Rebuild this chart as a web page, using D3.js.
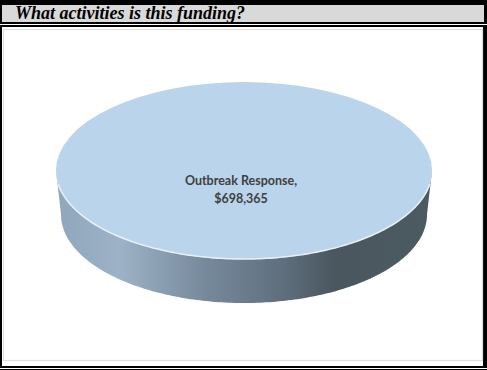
<!DOCTYPE html>
<html>
<head>
<meta charset="utf-8">
<script src="https://cdn.jsdelivr.net/npm/d3@7"></script>
<style>
  html, body { margin: 0; padding: 0; background: #fff; }
  svg { display: block; }
</style>
</head>
<body>
<svg width="487" height="370"></svg>
<script>
const width = 487;
const height = 370;

const categories = ["Outbreak Response"];
const values = [698365];
const title = "What activities is this funding?";

const svg = d3.select("svg");

// frame around the whole thing
svg.append("rect").attr("width", width).attr("height", height).attr("fill", "#000");
svg.append("rect").attr("x", 2).attr("y", 5).attr("width", 482).attr("height", 17).attr("fill", "#d9d9d9");
svg.append("rect").attr("x", 0).attr("y", 24).attr("width", width).attr("height", 1).attr("fill", "#fff");
svg.append("rect").attr("x", 2).attr("y", 27).attr("width", 481).attr("height", 339).attr("fill", "#fff");
svg.append("rect").attr("x", 0).attr("y", 368).attr("width", width).attr("height", 1).attr("fill", "#fff");

svg.append("text")
  .attr("x", 15)
  .attr("y", 19)
  .attr("font-family", "Liberation Serif")
  .attr("font-size", 18)
  .attr("font-weight", "bold")
  .attr("font-style", "italic")
  .attr("fill", "#000")
  .text(title);

// chart area border
svg.append("rect")
  .attr("x", 3.5).attr("y", 29.5)
  .attr("width", 479).attr("height", 331)
  .attr("fill", "#fff")
  .attr("stroke", "#dedede")
  .attr("stroke-width", 1.2);

// pie geometry, the bottom ellipse is a bit narrower than the top
const cx = 244, cy = 170.5, rx = 188, ry = 88.5, depth = 44, rxBottom = 183;

const defs = svg.append("defs");
const grad = defs.append("linearGradient")
  .attr("id", "side")
  .attr("gradientUnits", "userSpaceOnUse")
  .attr("x1", cx - rx).attr("x2", cx + rx).attr("y1", 0).attr("y2", 0);
grad.append("stop").attr("offset", "0%").attr("stop-color", "#8fa6bc");
grad.append("stop").attr("offset", "17%").attr("stop-color", "#9db2c6");
grad.append("stop").attr("offset", "40%").attr("stop-color", "#76899b");
grad.append("stop").attr("offset", "60%").attr("stop-color", "#5f6f7e");
grad.append("stop").attr("offset", "74%").attr("stop-color", "#4a575f");
grad.append("stop").attr("offset", "100%").attr("stop-color", "#4c5a62");

const pie = d3.pie().sort(null);
const slices = pie(values);

// side wall: front half of the top ellipse, back along the bottom ellipse
const angles = d3.range(0, 181).map(d => d * Math.PI / 180);
const wallPoints = angles
  .map(a => [cx + rx * Math.cos(a), cy + ry * Math.sin(a)])
  .concat(angles.slice().reverse().map(a => [cx + rxBottom * Math.cos(a), cy + ry * Math.sin(a) + depth]));
svg.append("path")
  .attr("d", d3.line()(wallPoints) + "Z")
  .attr("fill", "url(#side)");

// top face
const arc = d3.arc().innerRadius(0).outerRadius(rx);
svg.append("g")
  .attr("transform", `translate(${cx},${cy}) scale(1,${ry / rx})`)
  .selectAll("path")
  .data(slices)
  .enter().append("path")
  .attr("d", arc)
  .attr("fill", "#bad4eb");

// thin highlight on the front edge of the top
const rim = d3.line()
  .x(a => cx + rx * Math.cos(a))
  .y(a => cy + ry * Math.sin(a));
svg.append("path")
  .datum(angles.filter(a => a > 0.15 && a < Math.PI - 0.15))
  .attr("d", rim)
  .attr("fill", "none")
  .attr("stroke", "#e9f1f8")
  .attr("stroke-width", 1.5);

// label
const label = svg.append("text")
  .attr("text-anchor", "middle")
  .attr("font-family", "Lato")
  .attr("font-size", 12.5)
  .attr("font-weight", "bold")
  .attr("fill", "#404040");
label.append("tspan").attr("x", cx - 3).attr("y", 185).text(categories[0] + ",");
label.append("tspan").attr("x", cx - 3).attr("y", 203).text(d3.format("$,")(values[0]));
</script>
</body>
</html>
